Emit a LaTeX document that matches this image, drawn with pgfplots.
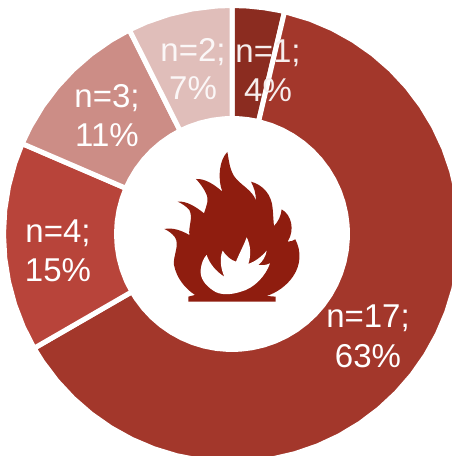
\documentclass[border=0pt]{standalone}
\usepackage{fontspec}
\setmainfont{Liberation Sans}
\usepackage{pgfplots}
\pgfplotsset{compat=1.18}
\usepgfplotslibrary{polar}
\definecolor{cA}{HTML}{8B2C20}
\definecolor{cB}{HTML}{A3372B}
\definecolor{cC}{HTML}{B8443A}
\definecolor{cD}{HTML}{CC8D86}
\definecolor{cE}{HTML}{E0BEBA}
\definecolor{cF}{HTML}{8F1D0F}
\begin{document}
\begin{tikzpicture}
\path[use as bounding box] (0,0) rectangle (452pt,456pt);
\begin{axis}[hide axis,scale only axis,width=452pt,height=456pt,
  xmin=-232,xmax=220,ymin=-222,ymax=234,
  every axis plot/.append style={data cs=polar,draw=white,line width=5pt,line join=miter,mark=none}]
% n=1; 4%
\addplot[fill=cA] coordinates {(90,228.5)(86,228.5)(82,228.5)(78,228.5)(76.7,228.5)(76.7,115.5)(78,115.5)(82,115.5)(86,115.5)(90,115.5)} --cycle;
% n=17; 63%
\addplot[fill=cB] coordinates {(76.7,228.5)(70,228.5)(64,228.5)(58,228.5)(52,228.5)(46,228.5)(40,228.5)(34,228.5)(28,228.5)(22,228.5)(16,228.5)(10,228.5)(4,228.5)(-2,228.5)(-8,228.5)(-14,228.5)(-20,228.5)(-26,228.5)(-32,228.5)(-38,228.5)(-44,228.5)(-50,228.5)(-56,228.5)(-62,228.5)(-68,228.5)(-74,228.5)(-80,228.5)(-86,228.5)(-92,228.5)(-98,228.5)(-104,228.5)(-110,228.5)(-116,228.5)(-122,228.5)(-128,228.5)(-134,228.5)(-140,228.5)(-146,228.5)(-150,228.5)
(-150,115.5)(-146,115.5)(-140,115.5)(-134,115.5)(-128,115.5)(-122,115.5)(-116,115.5)(-110,115.5)(-104,115.5)(-98,115.5)(-92,115.5)(-86,115.5)(-80,115.5)(-74,115.5)(-68,115.5)(-62,115.5)(-56,115.5)(-50,115.5)(-44,115.5)(-38,115.5)(-32,115.5)(-26,115.5)(-20,115.5)(-14,115.5)(-8,115.5)(-2,115.5)(4,115.5)(10,115.5)(16,115.5)(22,115.5)(28,115.5)(34,115.5)(40,115.5)(46,115.5)(52,115.5)(58,115.5)(64,115.5)(70,115.5)(76.7,115.5)} --cycle;
% n=4; 15%
\addplot[fill=cC] coordinates {(-150,228.5)(-156,228.5)(-162,228.5)(-168,228.5)(-174,228.5)(-180,228.5)(-186,228.5)(-192,228.5)(-198,228.5)(-203.3,228.5)(-203.3,115.5)(-198,115.5)(-192,115.5)(-186,115.5)(-180,115.5)(-174,115.5)(-168,115.5)(-162,115.5)(-156,115.5)(-150,115.5)} --cycle;
% n=3; 11%
\addplot[fill=cD] coordinates {(-203.3,228.5)(-208,228.5)(-214,228.5)(-220,228.5)(-226,228.5)(-232,228.5)(-238,228.5)(-243.3,228.5)(-243.3,115.5)(-238,115.5)(-232,115.5)(-226,115.5)(-220,115.5)(-214,115.5)(-208,115.5)(-203.3,115.5)} --cycle;
% n=2; 7%
\addplot[fill=cE] coordinates {(-243.3,228.5)(-248,228.5)(-254,228.5)(-260,228.5)(-266,228.5)(-270,228.5)(-270,115.5)(-266,115.5)(-260,115.5)(-254,115.5)(-248,115.5)(-243.3,115.5)} --cycle;
\end{axis}
% labels, placed in reference pixels
\begin{scope}[every node/.style={text=white,inner sep=0pt,anchor=center,font=\fontsize{33}{33}\selectfont}]
\node[text=white!92!cA] at (268pt,403pt) {n=1;};
\node[text=white!92!cA] at (268pt,366pt) {4\%};
\node[text=white!88!cE] at (193pt,404pt) {n=2;};
\node[text=white!88!cE] at (193pt,368pt) {7\%};
\node at (107pt,358pt) {n=3;};
\node at (107pt,321pt) {11\%};
\node at (58pt,223pt) {n=4;};
\node at (58pt,186pt) {15\%};
\node at (368pt,138pt) {n=17;};
\node at (368pt,100pt) {63\%};
\end{scope}
% flame, traced in crop coordinates
\begin{scope}[shift={(130pt,326pt)},x=0.3333pt,y=-0.3333pt]
\fill[cF] (292,66) .. controls (297,90) and (298,115) .. (312,138)
 .. controls (330,165) and (368,180) .. (378,212)
 .. controls (378,190) and (372,172) .. (363,155)
 .. controls (400,165) and (425,195) .. (428,235)
 .. controls (430,255) and (430,272) .. (432,288)
 .. controls (445,275) and (453,258) .. (455,238)
 .. controls (485,255) and (495,300) .. (473,335)
 .. controls (482,335) and (490,332) .. (496,328)
 .. controls (515,365) and (512,405) .. (490,438)
 .. controls (470,468) and (440,488) .. (410,498)
 -- (437,500) -- (437,515) -- (175,515) -- (175,500) -- (195,495)
 .. controls (165,475) and (140,445) .. (132,405)
 .. controls (128,380) and (150,345) .. (135,322)
 .. controls (128,312) and (115,302) .. (103,297)
 .. controls (130,292) and (155,302) .. (178,315)
 .. controls (175,290) and (190,262) .. (178,240)
 .. controls (170,230) and (155,220) .. (143,215)
 .. controls (170,212) and (200,232) .. (222,250)
 .. controls (230,225) and (238,210) .. (228,190)
 .. controls (220,172) and (208,158) .. (198,147)
 .. controls (225,145) and (255,165) .. (277,185)
 .. controls (262,145) and (268,90) .. (292,66) -- cycle;
\fill[white] (230,375) .. controls (238,400) and (258,425) .. (283,440)
 .. controls (272,415) and (268,385) .. (278,362)
 .. controls (288,378) and (302,390) .. (318,395)
 .. controls (328,370) and (342,345) .. (350,322)
 .. controls (362,345) and (364,375) .. (355,402)
 .. controls (375,395) and (395,380) .. (410,362)
 .. controls (408,378) and (398,395) .. (385,405)
 .. controls (398,407) and (410,405) .. (420,400)
 .. controls (408,435) and (375,475) .. (330,486)
 .. controls (300,495) and (270,496) .. (250,482)
 .. controls (225,465) and (210,445) .. (212,420)
 .. controls (214,400) and (220,385) .. (230,375) -- cycle;
\end{scope}
\end{tikzpicture}
\end{document}
